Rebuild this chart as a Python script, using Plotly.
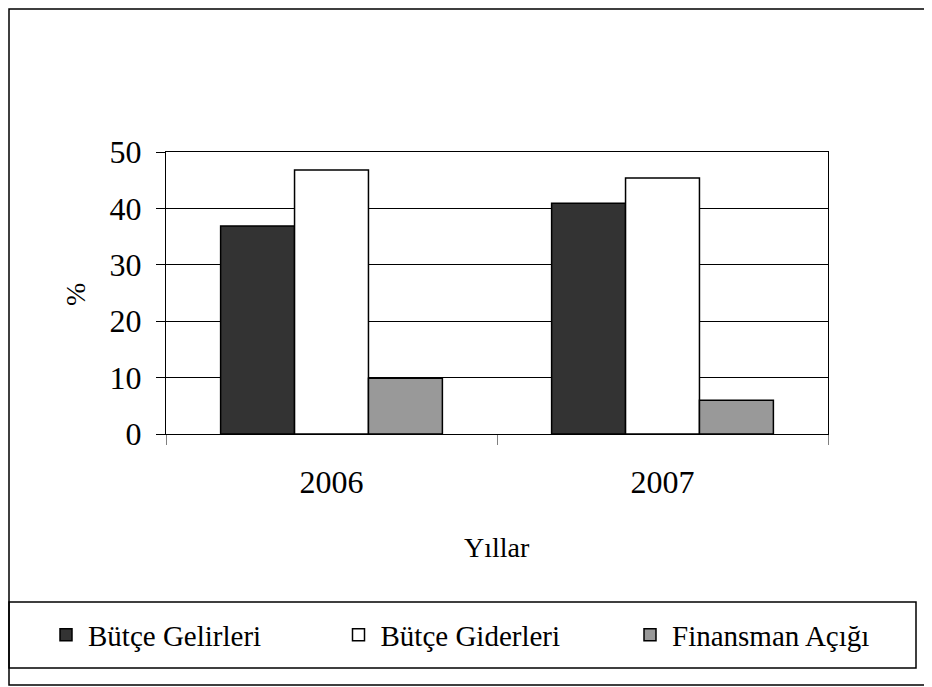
import plotly.graph_objects as go

years = ["2006", "2007"]
series_names = ["Bütçe Gelirleri", "Bütçe Giderleri", "Finansman Açığı"]
gelirler = [36.9, 40.9]
giderler = [46.8, 45.4]
finansman = [9.9, 6.0]
y_ticks = [0, 10, 20, 30, 40, 50]

FONT = "Liberation Serif, Times New Roman, serif"
# page has an 8px body margin, so figure coordinates = page coordinates - 8
W, H = 924, 679
L, R, T, B = 158, 820, 144, 426

def px_x(x):
    return (x - L) / (R - L)

def px_y(y):
    return (B - y) / (B - T)

fig = go.Figure()
colors = ["#333333", "#ffffff", "#999999"]
legend_ids = ["legend", "legend2", "legend3"]
legend_x = [36, 328.5, 620]
for name, vals, c, lg in zip(series_names, [gelirler, giderler, finansman], colors, legend_ids):
    fig.add_trace(go.Bar(x=years, y=vals, name=name, legend=lg,
                         marker=dict(color=c, line=dict(color="black", width=1.5))))

legend_common = dict(orientation="h", xref="container", yref="container",
                     y=1 - 627 / H, xanchor="left", yanchor="middle", itemwidth=34,
                     font=dict(family=FONT, size=29, color="black"),
                     bgcolor="rgba(0,0,0,0)")

fig.update_layout(
    width=W, height=H,
    margin=dict(l=L, r=W - R, t=T, b=H - B, pad=0),
    paper_bgcolor="white", plot_bgcolor="white",
    barmode="group", bargap=0.33, bargroupgap=0,
    font=dict(family=FONT, size=28, color="black"),
    showlegend=True,
    legend=dict(x=legend_x[0] / W, **legend_common),
    legend2=dict(x=legend_x[1] / W, **legend_common),
    legend3=dict(x=legend_x[2] / W, **legend_common),
    xaxis=dict(type="category", tickson="boundaries", ticks="outside", ticklen=10,
               tickcolor="#808080", tickwidth=1, showgrid=False,
               showline=True, linecolor="black", linewidth=1, mirror=True,
               tickfont=dict(family=FONT, size=32), ticklabelstandoff=20),
    yaxis=dict(range=[0, 50], tickvals=y_ticks, ticks="outside", ticklen=9,
               tickcolor="black", showgrid=True, gridcolor="black", gridwidth=1,
               showline=True, linecolor="black", linewidth=1, mirror=True,
               zeroline=False, tickfont=dict(family=FONT, size=32), ticklabelstandoff=8),
)

fig.add_annotation(text="%", xref="paper", yref="paper", x=px_x(67), y=px_y(287),
                   xanchor="center", yanchor="middle",
                   showarrow=False, textangle=-90, font=dict(family=FONT, size=28))
fig.add_annotation(text="Yıllar", xref="paper", yref="paper", x=px_x(489), y=px_y(539),
                   xanchor="center", yanchor="middle",
                   showarrow=False, font=dict(family=FONT, size=28))

# outer chart frame
fig.add_shape(type="rect", xref="paper", yref="paper",
              x0=px_x(1), x1=px_x(940), y0=px_y(677), y1=px_y(1),
              line=dict(color="black", width=1.5), fillcolor="rgba(0,0,0,0)", layer="below")
# legend frame
fig.add_shape(type="rect", xref="paper", yref="paper",
              x0=px_x(1), x1=px_x(908), y0=px_y(660), y1=px_y(594),
              line=dict(color="black", width=1.5), fillcolor="rgba(0,0,0,0)", layer="below")

fig.write_html("out.html")
